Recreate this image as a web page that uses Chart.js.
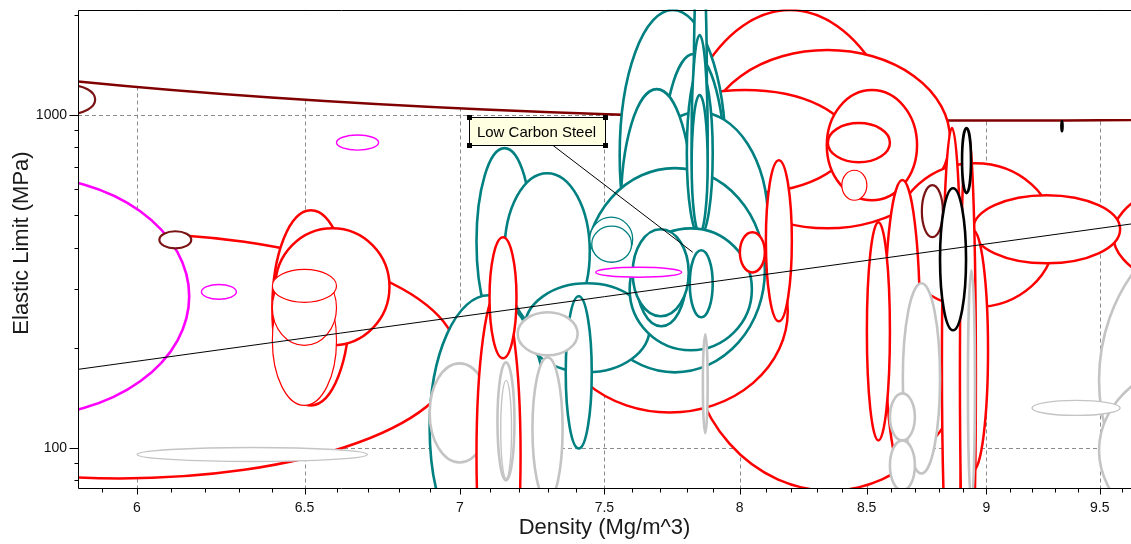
<!DOCTYPE html>
<html>
<head>
<meta charset="utf-8">
<script src="https://cdn.jsdelivr.net/npm/chart.js@4.4.1/dist/chart.umd.min.js"></script>
<style>
  html, body { margin: 0; padding: 0; background: #ffffff; }
  canvas { display: block; }
</style>
</head>
<body>
<canvas id="chart" width="1131" height="544"></canvas>
<script>
// Axis ranges (Mg/m^3 and MPa)
const densityMin = 5.834, densityMax = 9.643;
const strengthMin = 75.4, strengthMax = 2075;

// Tick positions and the ones that carry a label / grid line
const densityTicks = [5.9, 6, 6.1, 6.2, 6.3, 6.4, 6.5, 6.6, 6.7, 6.8, 6.9, 7, 7.1, 7.2, 7.3, 7.4, 7.5, 7.6, 7.7, 7.8, 7.9,
                      8, 8.1, 8.2, 8.3, 8.4, 8.5, 8.6, 8.7, 8.8, 8.9, 9, 9.1, 9.2, 9.3, 9.4, 9.5, 9.6];
const densityLabels = [6, 6.5, 7, 7.5, 8, 8.5, 9, 9.5];
const strengthTicks = [80, 90, 100, 200, 300, 400, 500, 600, 700, 800, 900, 1000, 2000];
const strengthLabels = [100, 1000];

// Material property ranges, in drawing order (later records sit on top)
const densityLow = [4.642, 5.07, 5.245, 5.738, 6.065, 6.600, 6.188, 6.001, 6.401, 6.410,
  6.401, 6.401, 6.401, 7.708, 7.805, 7.314, 7.868, 7.628, 8.340, 7.555,
  7.708, 7.591, 7.559, 7.430, 7.056, 7.151, 6.900, 7.220, 7.363, 7.196,
  6.900, 7.056, 7.100, 7.127, 7.138, 7.247, 7.801, 7.827, 7.819, 7.819,
  7.591, 7.617, 7.602, 7.812, 7.448, 7.455, 7.469, 7.861, 8.001, 8.101,
  8.344, 8.400, 8.615, 9.561, 8.943, 8.574, 8.501, 8.879, 8.811, 8.887,
  8.648, 8.595, 8.595, 8.921, 8.727, 8.896, 8.803, 9.497, 9.497, 9.198, 9.328];
const densityHigh = [17.68, 6.99, 6.152, 5.882, 6.158, 6.734, 6.292, 6.698, 6.641, 6.769,
  6.600, 6.600, 6.600, 8.711, 8.938, 8.186, 8.845, 8.432, 8.707, 7.947,
  7.947, 8.109, 7.823, 8.097, 7.247, 7.448, 7.300, 7.664, 7.455, 7.405,
  7.100, 7.206, 7.192, 7.185, 7.175, 7.352, 7.898, 7.876, 7.879, 7.879,
  8.047, 7.797, 7.808, 7.898, 7.602, 7.598, 7.782, 7.879, 8.097, 8.202,
  8.595, 8.501, 9.300, 10.97, 9.593, 8.719, 8.595, 9.007, 8.896, 8.955,
  8.803, 8.698, 8.698, 8.951, 8.815, 8.934, 8.913, 10.97, 10.66, 9.593, 9.333];
const strengthLow = [962.6, 81.1, 124.5, 1007, 398, 785, 280, 91.2, 134.4, 203.6,
  134.4, 203.6, 274, 89.3, 74.6, 128.0, 457, 583, 555, 278,
  278, 225.9, 225.9, 168.9, 218, 225.9, 46.0, 168.9, 99.8, 190.0,
  90.6, 30.4, 186.1, 80.0, 81.1, 69.6, 432.8, 442, 442, 442,
  196.7, 232.2, 248.8, 247.1, 364, 361.5, 325.9, 110.8, 337, 240.3,
  722, 555, 264.8, 278, 359, 85.7, 105.5, 85.7, 34.9, 30.4,
  83.9, 105.5, 74.6, 69.6, 430, 583, 225.9, 49.3, 51.4, 125.4, 895];
const strengthHigh = [8575, 442, 656, 1231, 448, 871, 310, 100.5, 518, 457,
  330, 342, 344, 2068, 683, 518, 1568, 1189, 1189, 2068,
  1525, 1021, 1197, 693, 796, 669, 287.7, 312.6, 285.7, 255.8,
  179.7, 297.9, 429.9, 181.0, 159.8, 187.3, 1365, 3357, 1740, 1148,
  457, 435.8, 454, 392.9, 493.6, 463.8, 349.2, 219.7, 445, 732,
  946, 683, 717, 683, 575, 638, 477, 451, 914, 901,
  312.6, 146.0, 105.5, 342, 616, 914, 603, 518, 188.7, 139.1, 959];
const materialFamily = ['envelope', 'ferrous', 'nickel', 'cobalt', 'cobalt', 'nickelFine', 'nickelFine', 'leadFine', 'ferrous', 'ferrous',
  'ferrousFine', 'ferrousFine', 'ferrousFine', 'ferrous', 'ferrous', 'ferrous', 'ferrous', 'ferrous', 'ferrous', 'copper',
  'copper', 'copper', 'copper', 'copper', 'copper', 'copper', 'copper', 'copper', 'copper', 'lead',
  'lead', 'ferrous', 'ferrous', 'lead', 'leadFine', 'lead', 'copper', 'copper', 'copper', 'copper',
  'copper', 'copper', 'copper', 'copper', 'copperFine', 'copperFine', 'nickelFine', 'lead', 'ferrous', 'ferrous',
  'ferrous', 'ferrousFine', 'ferrous', 'ferrous', 'ferrous', 'ferrous', 'ferrous', 'ferrous', 'ferrous', 'ferrous',
  'lead', 'lead', 'lead', 'lead', 'cobalt', 'tungsten', 'tungsten', 'lead', 'lead', 'leadFine', 'tungsten'];

// Strength-density trend line and the label leader
const trendDensity = [5.8, 9.7];
const trendStrength = [170.4, 476.6];
const leaderDensity = [7.317, 7.823];
const leaderStrength = [812.5, 387.5];
const labelText = 'Low Carbon Steel';
const xTitle = 'Density (Mg/m^3)';
const yTitle = 'Elastic Limit (MPa)';

const familyStyle = {
  envelope:   { color: '#800000', width: 2.5 },
  ferrous:    { color: '#ff0000', width: 2.5 },
  ferrousFine:{ color: '#ff0000', width: 1.2 },
  copper:     { color: '#008080', width: 2.6 },
  copperFine: { color: '#008080', width: 1.3 },
  nickel:     { color: '#ff00ff', width: 2.6 },
  nickelFine: { color: '#ff00ff', width: 1.4 },
  lead:       { color: '#c4c4c4', width: 2.6 },
  leadFine:   { color: '#c4c4c4', width: 1.4 },
  cobalt:     { color: '#7a1414', width: 2.2 },
  tungsten:   { color: '#000000', width: 2.6 }
};

const FONT = '"Liberation Sans", Arial, sans-serif';

const ellipsePlugin = {
  id: 'materialEllipses',
  // dashed grid at the labelled ticks, then the white-filled property ellipses
  beforeDatasetsDraw(chart) {
    const { ctx, chartArea: a, scales: { x, y } } = chart;
    ctx.save();
    ctx.beginPath();
    ctx.rect(a.left, a.top, a.right - a.left, a.bottom - a.top);
    ctx.clip();

    ctx.strokeStyle = '#8c8c8c';
    ctx.lineWidth = 1;
    ctx.setLineDash([4, 3]);
    densityLabels.forEach(v => {
      const px = Math.round(x.getPixelForValue(v)) + 0.5;
      ctx.beginPath(); ctx.moveTo(px, a.top); ctx.lineTo(px, a.bottom); ctx.stroke();
    });
    strengthLabels.forEach(v => {
      const py = Math.round(y.getPixelForValue(v)) + 0.5;
      ctx.beginPath(); ctx.moveTo(a.left, py); ctx.lineTo(a.right, py); ctx.stroke();
    });
    ctx.setLineDash([]);

    for (let i = 0; i < materialFamily.length; i++) {
      const x0 = x.getPixelForValue(densityLow[i]);
      const x1 = x.getPixelForValue(densityHigh[i]);
      const y0 = y.getPixelForValue(strengthLow[i]);
      const y1 = y.getPixelForValue(strengthHigh[i]);
      const st = familyStyle[materialFamily[i]];
      ctx.beginPath();
      ctx.ellipse((x0 + x1) / 2, (y0 + y1) / 2, Math.abs(x1 - x0) / 2, Math.abs(y1 - y0) / 2, 0, 0, Math.PI * 2);
      ctx.fillStyle = '#ffffff';
      ctx.fill();
      ctx.lineWidth = st.width;
      ctx.strokeStyle = st.color;
      ctx.stroke();
    }
    ctx.restore();
  },
  // label box anchored at the start of the leader line
  afterDatasetsDraw(chart) {
    const { ctx, scales: { x, y } } = chart;
    const ax = x.getPixelForValue(leaderDensity[0]);
    const ay = y.getPixelForValue(leaderStrength[0]);
    const left = Math.round(ax - 84) + 0.5, top = Math.round(ay - 28) + 0.5;
    const w = 136, h = 28;
    ctx.save();
    ctx.fillStyle = '#ffffe1';
    ctx.fillRect(left, top, w, h);
    ctx.strokeStyle = '#000000';
    ctx.lineWidth = 1;
    ctx.strokeRect(left, top, w, h);
    ctx.fillStyle = '#000000';
    [[left, top], [left + w, top], [left, top + h], [left + w, top + h]].forEach(([cx, cy]) => {
      ctx.fillRect(cx - 2.5, cy - 2.5, 5, 5);
    });
    ctx.font = '15px ' + FONT;
    ctx.textAlign = 'center';
    ctx.textBaseline = 'middle';
    ctx.fillText(labelText, left + w / 2 - 1, top + h / 2 + 1);
    ctx.restore();
  },
  // frame, tick marks and axis titles
  afterDraw(chart) {
    const { ctx, chartArea: a, scales: { x, y } } = chart;
    ctx.save();
    ctx.strokeStyle = '#000000';
    ctx.lineWidth = 1;
    const L = Math.round(a.left) + 0.5, B = Math.round(a.bottom) - 0.5, T = Math.round(a.top) + 0.5;
    ctx.beginPath();
    ctx.moveTo(a.right, T); ctx.lineTo(L, T); ctx.lineTo(L, B); ctx.lineTo(a.right, B);
    ctx.stroke();
    densityTicks.forEach(v => {
      const px = Math.round(x.getPixelForValue(v)) + 0.5;
      const len = densityLabels.includes(v) ? 6 : 4;
      ctx.beginPath(); ctx.moveTo(px, B); ctx.lineTo(px, B + len); ctx.stroke();
    });
    strengthTicks.forEach(v => {
      const py = Math.round(y.getPixelForValue(v)) + 0.5;
      const len = strengthLabels.includes(v) ? 9 : 4;
      ctx.beginPath(); ctx.moveTo(L, py); ctx.lineTo(L - len, py); ctx.stroke();
    });

    ctx.fillStyle = '#1a1a1a';
    ctx.font = '22px ' + FONT;
    ctx.textAlign = 'center';
    ctx.textBaseline = 'middle';
    ctx.fillText(xTitle, (a.left + 1131) / 2, 528);
    ctx.translate(22, 243);
    ctx.rotate(-Math.PI / 2);
    ctx.fillText(yTitle, 0, 0);
    ctx.restore();
  }
};

new Chart(document.getElementById('chart'), {
  type: 'scatter',
  data: {
    datasets: [
      {
        data: trendDensity.map((d, i) => ({ x: d, y: trendStrength[i] })),
        showLine: true, borderColor: '#000000', borderWidth: 1, pointRadius: 0, fill: false
      },
      {
        data: leaderDensity.map((d, i) => ({ x: d, y: leaderStrength[i] })),
        showLine: true, borderColor: '#000000', borderWidth: 1, pointRadius: 0, fill: false
      }
    ]
  },
  options: {
    responsive: false,
    animation: false,
    devicePixelRatio: 1,
    layout: { padding: { top: 9.5, right: 0, left: 0, bottom: 0 } },
    plugins: { legend: { display: false }, tooltip: { enabled: false } },
    scales: {
      x: {
        type: 'logarithmic',
        min: densityMin, max: densityMax, bounds: 'data',
        afterBuildTicks: s => { s.ticks = densityTicks.map(v => ({ value: v })); },
        afterFit: s => { s.height = 55; s.paddingLeft = 0; s.paddingRight = 0; },
        grid: { display: false, drawTicks: false },
        border: { display: false },
        ticks: {
          autoSkip: false, maxRotation: 0, padding: 11,
          color: '#111111', font: { family: FONT, size: 14 },
          callback: v => densityLabels.includes(v) ? String(v) : ''
        }
      },
      y: {
        type: 'logarithmic',
        min: strengthMin, max: strengthMax, bounds: 'data',
        afterBuildTicks: s => { s.ticks = strengthTicks.map(v => ({ value: v })); },
        afterFit: s => { s.width = 78; s.paddingTop = 0; s.paddingBottom = 0; },
        grid: { display: false, drawTicks: false },
        border: { display: false },
        ticks: {
          autoSkip: false, padding: 11,
          color: '#111111', font: { family: FONT, size: 14 },
          callback: v => strengthLabels.includes(v) ? String(v) : ''
        }
      }
    }
  },
  plugins: [ellipsePlugin]
});
</script>
</body>
</html>
